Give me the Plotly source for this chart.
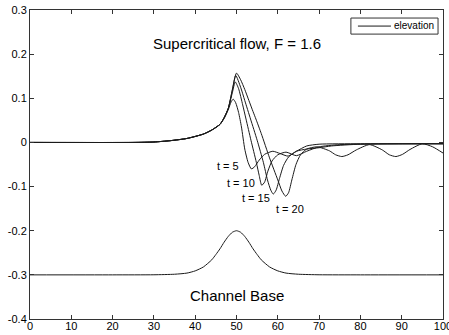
import plotly.graph_objects as go

# ---- data ----
x_t5 = [0, 25, 30, 34, 38, 42, 44, 46, 47, 48, 48.7, 49.2, 49.8, 50.5, 51.2, 52, 52.8, 53.6, 54.4, 55.5, 56.8, 58.8, 60.5, 62.5, 64.5, 67, 70, 80, 100]
y_t5 = [0, 0, 0.001, 0.004, 0.009, 0.019, 0.028, 0.041, 0.054, 0.074, 0.092, 0.098, 0.09, 0.068, 0.035, -0.015, -0.045, -0.06, -0.055, -0.04, -0.027, -0.02, -0.025, -0.031, -0.02, -0.008, -0.004, -0.003, -0.003]

x_t10 = [0, 25, 30, 34, 38, 42, 44, 46, 47, 48, 49, 49.7, 50.5, 51.5, 52.3, 53.5, 54.8, 55.5, 56.1, 56.8, 57.6, 58.6, 60, 62, 64.5, 67, 70, 75, 100]
y_t10 = [0, 0, 0.001, 0.004, 0.009, 0.019, 0.028, 0.041, 0.056, 0.077, 0.113, 0.137, 0.122, 0.085, 0.053, 0.005, -0.045, -0.075, -0.097, -0.09, -0.065, -0.042, -0.028, -0.022, -0.03, -0.02, -0.01, -0.005, -0.003]

x_t15 = [0, 25, 30, 34, 38, 42, 44, 46, 47, 48, 49, 49.8, 51, 52, 53.4, 55, 56.5, 57.5, 58.3, 58.9, 59.6, 60.4, 61.4, 62.6, 64.5, 67, 70, 73, 80, 100]
y_t15 = [0, 0, 0.001, 0.004, 0.009, 0.019, 0.028, 0.041, 0.056, 0.077, 0.118, 0.152, 0.125, 0.095, 0.053, 0.005, -0.045, -0.085, -0.108, -0.117, -0.108, -0.082, -0.052, -0.033, -0.02, -0.015, -0.012, -0.008, -0.004, -0.003]

x_t20 = [0, 25, 30, 34, 38, 42, 44, 46, 47, 48, 49, 50, 51, 52, 53, 54, 54.7, 56, 58, 60, 61, 61.9, 62.6, 63.4, 64.4, 65.5, 67, 69.5, 72.5, 74, 75.5, 77, 79, 82.2, 85.3, 87, 88.6, 90.2, 92, 95, 97.5, 100]
y_t20 = [0, 0, 0.001, 0.004, 0.009, 0.019, 0.028, 0.041, 0.056, 0.077, 0.12, 0.157, 0.142, 0.12, 0.095, 0.07, 0.053, 0.02, -0.035, -0.085, -0.11, -0.122, -0.114, -0.085, -0.05, -0.028, -0.015, -0.01, -0.019, -0.028, -0.032, -0.028, -0.017, -0.005, -0.017, -0.028, -0.032, -0.027, -0.016, -0.003, -0.01, -0.024]

x_base = [0, 20, 30, 35, 38, 40, 42, 44, 45, 46, 47, 48, 49, 50, 51, 52, 53, 54, 55, 56, 58, 60, 62, 65, 70, 80, 100]
y_base = [-0.3, -0.3, -0.2998, -0.2986, -0.296, -0.291, -0.282, -0.266, -0.254, -0.241, -0.226, -0.213, -0.2035, -0.2, -0.2035, -0.213, -0.226, -0.241, -0.254, -0.266, -0.282, -0.291, -0.296, -0.2986, -0.2998, -0.3, -0.3]

label_text = ["t = 5", "t = 10", "t = 15", "t = 20"]
label_x = [47.9, 51.2, 54.7, 62.9]
label_y = [-0.053, -0.091, -0.126, -0.150]

x_ticks = [0, 10, 20, 30, 40, 50, 60, 70, 80, 90, 100]
y_ticks = [0.3, 0.2, 0.1, 0, -0.1, -0.2, -0.3, -0.4]
y_ticktext = ["0.3", "0.2", "0.1", "0", "-0.1", "-0.2", "-0.3", "-0.4"]

title_text = "Supercritical flow, F = 1.6"
base_text = "Channel Base"
legend_text = "elevation"

FONT = "Liberation Sans, Arial"
LINE_COLOR = "#1a1a1a"
line_style = dict(color=LINE_COLOR, width=1, shape="spline", smoothing=0.6)

fig = go.Figure()
series = [(x_t5, y_t5), (x_t10, y_t10), (x_t15, y_t15), (x_t20, y_t20)]
for i, (xs, ys) in enumerate(series):
    fig.add_trace(go.Scatter(x=xs, y=ys, mode="lines", line=line_style,
                             name=legend_text, showlegend=False))
fig.add_trace(go.Scatter(x=x_base, y=y_base, mode="lines", line=line_style,
                         name="base", showlegend=False))

for t, lx, ly in zip(label_text, label_x, label_y):
    fig.add_annotation(x=lx, y=ly, text=t, showarrow=False,
                       font=dict(family=FONT, size=11, color="black"))

fig.add_annotation(x=50, y=0.223, text=title_text, showarrow=False,
                   font=dict(family=FONT, size=15, color="black"))
fig.add_annotation(x=50, y=-0.3475, text=base_text, showarrow=False,
                   font=dict(family=FONT, size=15, color="black"))

# legend box (MATLAB-style compact legend)
fig.add_shape(type="rect", xref="paper", yref="paper", x0=0.777, x1=0.988, y0=0.922, y1=0.974,
              line=dict(color="#333333", width=1), fillcolor="white", layer="above")
fig.add_shape(type="line", xref="paper", yref="paper", x0=0.794, x1=0.874, y0=0.948, y1=0.948,
              line=dict(color=LINE_COLOR, width=1), layer="above")
fig.add_annotation(xref="paper", yref="paper", x=0.877, y=0.949, xanchor="left", yanchor="middle",
                   text=legend_text, showarrow=False,
                   font=dict(family=FONT, size=10, color="black"))

axis_common = dict(showgrid=False, zeroline=False, showline=True, linecolor="#333333",
                   linewidth=1, mirror="ticks", ticks="inside", ticklen=4,
                   tickcolor="#333333", automargin=False, ticklabeloverflow="allow",
                   tickfont=dict(family=FONT, size=11, color="black"))

fig.update_xaxes(range=[0, 100], tickvals=x_ticks, ticklabelstandoff=-3, **axis_common)
fig.update_yaxes(range=[-0.4, 0.3], tickvals=y_ticks, ticktext=y_ticktext, **axis_common)

fig.update_layout(
    template="none",
    width=449, height=335,
    margin=dict(l=30, r=6, t=10, b=16),
    plot_bgcolor="white", paper_bgcolor="white",
    showlegend=False,
)

fig.write_html("out.html", config={"displayModeBar": False},
               post_script="document.body.style.margin='0';document.body.style.overflow='hidden';")
